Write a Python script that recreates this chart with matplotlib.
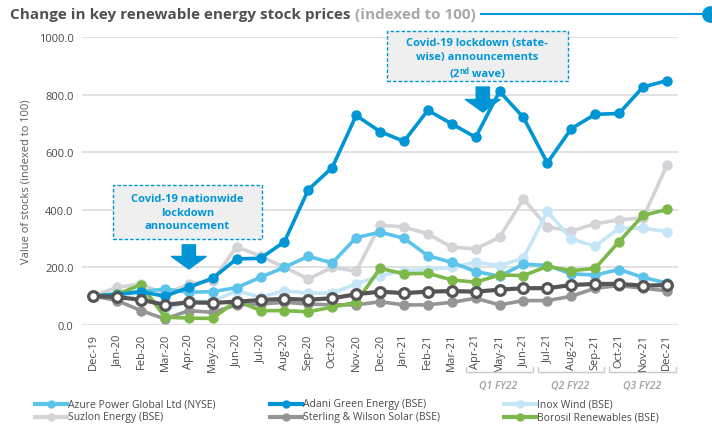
import matplotlib
matplotlib.use("Agg")
import matplotlib.pyplot as plt
from matplotlib.patches import Rectangle
from matplotlib.lines import Line2D

plt.rcParams["font.family"] = ["Open Sans", "DejaVu Sans"]

MONTHS = ["Dec-19", "Jan-20", "Feb-20", "Mar-20", "Apr-20", "May-20", "Jun-20",
          "Jul-20", "Aug-20", "Sep-20", "Oct-20", "Nov-20", "Dec-20", "Jan-21",
          "Feb-21", "Mar-21", "Apr-21", "May-21", "Jun-21", "Jul-21", "Aug-21",
          "Sep-21", "Oct-21", "Nov-21", "Dec-21"]

azure = [100, 108, 115, 124, 113, 115, 129, 165, 200, 238, 215, 303, 322,
         301, 240, 217, 185, 169, 211, 206, 177, 173, 192, 165, 145]
adani = [100, 105, 115, 99, 130, 162, 229, 231, 289, 470, 547, 728, 672,
         638, 746, 699, 652, 812, 721, 563, 682, 732, 735, 827, 849]
inox = [100, 105, 110, 55, 80, 82, 118, 96, 118, 110, 110, 142, 171,
        188, 192, 200, 217, 206, 231, 394, 299, 273, 336, 336, 324]
suzlon = [100, 130, 142, 106, 142, 153, 272, 238, 200, 159, 200, 186, 347,
          340, 316, 270, 264, 304, 438, 340, 326, 351, 365, 371, 554]
sterling = [100, 84, 49, 20, 49, 43, 69, 72, 78, 72, 69, 69, 80,
            69, 69, 78, 92, 69, 84, 84, 99, 127, 136, 127, 118]
borosil = [100, 106, 139, 26, 23, 22, 84, 49, 49, 45, 61, 78, 196,
           177, 179, 156, 148, 173, 171, 203, 188, 196, 289, 380, 401]
# dark grey series drawn in the chart but not named in the legend
unnamed = [100, 96, 87, 69, 78, 76, 80, 86, 90, 87, 92, 106, 115,
           110, 115, 117, 115, 122, 127, 127, 138, 142, 142, 136, 138]

QUARTERS = [("Q1 FY22", 16, 18), ("Q2 FY22", 19, 21), ("Q3 FY22", 22, 24)]

BLUE = "#0096d6"
TEXT = "#4a4a4a"
GRID = "#dcdcdc"
W, H = 712, 427


def px(x, y):
    """pixel position from the top-left corner -> figure fraction"""
    return x / W, 1 - y / H


fig = plt.figure(figsize=(7.12, 4.27), dpi=100)
ax = fig.add_axes([0.1152, 0.2372, 0.8368, 0.6731])
x = list(range(len(MONTHS)))

series = [
    ("Sterling & Wilson Solar (BSE)", sterling, "#959595"),
    ("Suzlon Energy (BSE)", suzlon, "#d3d3d8"),
    ("Inox Wind (BSE)", inox, "#c4e6f6"),
    ("Azure Power Global Ltd (NYSE)", azure, "#5cc3ea"),
    ("Borosil Renewables (BSE)", borosil, "#7db94a"),
    ("Adani Green Energy (BSE)", adani, BLUE),
]
colors = {}
for name, vals, color in series:
    ax.plot(x, vals, color=color, lw=2.6, marker="o", ms=6.5)
    colors[name] = color
ax.plot(x, unnamed, color="#555555", lw=3, marker="o", ms=7, mfc="white",
        mec="#555555", mew=2.3, zorder=5)

ax.set_xlim(-0.47, 24.46)
ax.set_ylim(0, 1000)
ax.set_yticks(range(0, 1001, 200))
ax.set_yticklabels([f"{v:.1f}" for v in range(0, 1001, 200)])
ax.set_xticks(x)
ax.set_xticklabels(MONTHS, rotation=90)
ax.tick_params(length=0, labelsize=8, colors=TEXT, pad=6)
ax.yaxis.grid(True, color=GRID, lw=1.2)
ax.set_axisbelow(True)
for s in ax.spines.values():
    s.set_visible(False)
ax.set_ylabel("Value of stocks (indexed to 100)", fontsize=8, color="#5a5a5a", labelpad=5)

# annotation boxes
dash = (0, (2.5, 1.5))
arrow = dict(arrowstyle="simple,head_length=0.9,head_width=2.5,tail_width=0.95",
             color=BLUE, shrinkA=0, shrinkB=0, mutation_scale=10)
ax.add_patch(Rectangle((0.82, 298), 6.24, 188, fc="#efefef", ec=BLUE, ls=dash,
                       lw=1, zorder=6))
ax.text(3.94, 392, "Covid-19 nationwide\nlockdown\nannouncement", ha="center", va="center",
        color=BLUE, fontsize=8, fontweight="bold", zorder=7, linespacing=1.3)
ax.annotate("", xy=(4, 194), xytext=(4, 278), arrowprops=arrow, zorder=7)

ax.add_patch(Rectangle((12.28, 849), 7.57, 174, fc="#efefef", ec=BLUE, ls=dash,
                       lw=1, zorder=6, clip_on=False))
ax.text(16.07, 958, "Covid-19 lockdown (state-\nwise) announcements", ha="center",
        va="center", color=BLUE, fontsize=8, fontweight="bold", zorder=7, linespacing=1.3)
# third line "(2nd wave)" with a raised, smaller "nd"
bold = dict(color=BLUE, fontweight="bold", zorder=7, va="baseline")
p1 = ax.text(0, 0, "(2", fontsize=8, **bold)
p2 = ax.text(0, 0, "nd", fontsize=5.5, **bold)
p3 = ax.text(0, 0, " wave)", fontsize=8, **bold)
fig.canvas.draw()
inv = ax.transData.inverted()
widths = [p.get_window_extent().width for p in (p1, p2, p3)]
cx, cy = ax.transData.transform((16.07, 866))
start = cx - sum(widths) / 2
p1.set_position(inv.transform((start, cy)))
p2.set_position(inv.transform((start + widths[0], cy + 3)))
p3.set_position(inv.transform((start + widths[0] + widths[1], cy)))
ax.annotate("", xy=(16.3, 740), xytext=(16.3, 827), arrowprops=arrow, zorder=7)

# quarter brackets under the month labels
trans = ax.get_xaxis_transform()
for label, a, b in QUARTERS:
    xs = [a - 0.4, a - 0.4, b + 0.38, b + 0.38]
    ax.add_line(Line2D(xs, [-0.146, -0.165, -0.165, -0.146], transform=trans,
                       color="#c8c8c8", lw=1, clip_on=False))
    ax.text((a + b) / 2 - 0.05, -0.21, label, transform=trans, ha="center", va="center",
            fontsize=7.5, style="italic", fontweight="semibold", color="#a0a0a0")

# legend, drawn by hand so the columns sit where the reference puts them
legend_rows = [
    [("Azure Power Global Ltd (NYSE)", 35), ("Adani Green Energy (BSE)", 270),
     ("Inox Wind (BSE)", 504)],
    [("Suzlon Energy (BSE)", 35), ("Sterling & Wilson Solar (BSE)", 270),
     ("Borosil Renewables (BSE)", 504)],
]
for row, y in zip(legend_rows, (405, 418)):
    for name, x0 in row:
        c = colors[name]
        (fx0, fy), (fx1, _) = px(x0, y), px(x0 + 32, y)
        fig.add_artist(Line2D([fx0, fx1], [fy, fy], color=c, lw=3,
                              transform=fig.transFigure))
        fig.add_artist(Line2D([(fx0 + fx1) / 2], [fy], color=c, marker="o", ms=5,
                              transform=fig.transFigure))
        fig.text(*px(x0 + 33, y), name, fontsize=7.5, color=TEXT, va="center")

# title
ty = px(0, 15)[1]
t1 = fig.text(px(10, 0)[0], ty, "Change in key renewable energy stock prices", fontsize=11,
              fontweight="bold", color="#505050", va="center")
fig.canvas.draw()
bb = t1.get_window_extent().transformed(fig.transFigure.inverted())
t2 = fig.text(bb.x1 + 0.006, ty, "(indexed to 100)", fontsize=11, fontweight="bold",
              color="#a8a8a8", va="center")
fig.canvas.draw()
bb2 = t2.get_window_extent().transformed(fig.transFigure.inverted())
fig.add_artist(Line2D([bb2.x1 + 0.008, 0.99], [ty, ty], color=BLUE, lw=1.5,
                      transform=fig.transFigure))
fig.add_artist(Line2D([0.997], [ty], marker="o", ms=11, color=BLUE,
                      transform=fig.transFigure, clip_on=False))

fig.savefig("out.png", dpi=100)
